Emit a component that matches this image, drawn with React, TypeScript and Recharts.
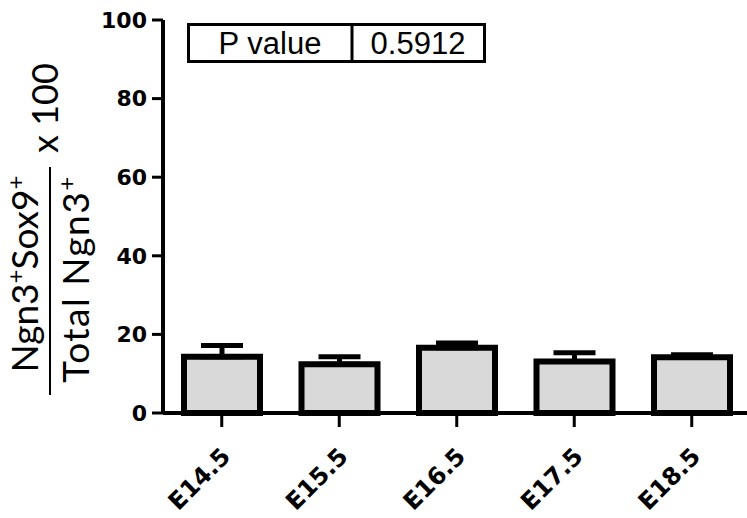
import React from 'react';
import { BarChart, Bar, XAxis, YAxis, ErrorBar } from 'recharts';

const categories = ['E14.5', 'E15.5', 'E16.5', 'E17.5', 'E18.5'];
const means = [14.3, 12.4, 16.6, 13.1, 14.2];
const sem = [2.9, 1.9, 1.2, 2.2, 0.6];
const yTicks = [0, 20, 40, 60, 80, 100];
const pValueLabel = 'P value';
const pValue = '0.5912';

const data = categories.map((c, i) => ({ name: c, value: means[i], err: [0, sem[i]] }));

const TICK_FONT = "'DejaVu Sans', sans-serif";
const LABEL_FONT = "Lato, 'Open Sans', sans-serif";

const XTick = (props: any) => {
  const { x, y, payload } = props;
  const tx = x + 10;
  const ty = y + 29;
  return (
    <text
      x={tx}
      y={ty}
      transform={`rotate(-45, ${tx}, ${ty})`}
      textAnchor="end"
      fontFamily={TICK_FONT}
      fontWeight="bold"
      fontSize={24}
      fill="#000"
    >
      {payload.value}
    </text>
  );
};

const Extras = () => {
  const sup = (t: string) => (
    <tspan baselineShift="super" fontSize={24}>
      {t}
    </tspan>
  );
  return (
    <g>
      <text
        x={38}
        y={274}
        transform="rotate(-90, 38, 274)"
        textAnchor="middle"
        fontFamily={LABEL_FONT}
        fontSize={37}
        fill="#000"
      >
        Ngn3{sup('+')}Sox9{sup('+')}
      </text>
      <line x1={50} y1={167} x2={50} y2={395} stroke="#000" strokeWidth={2} />
      <text
        x={89}
        y={279}
        transform="rotate(-90, 89, 279)"
        textAnchor="middle"
        fontFamily={LABEL_FONT}
        fontSize={37}
        letterSpacing={1.5}
        fill="#000"
      >
        Total Ngn3{sup('+')}
      </text>
      <text
        x={58}
        y={108}
        transform="rotate(-90, 58, 108)"
        textAnchor="middle"
        fontFamily={LABEL_FONT}
        fontSize={36}
        fill="#000"
      >
        x 100
      </text>
      <rect x={188.5} y={24.5} width={296} height={37} fill="#fff" stroke="#000" strokeWidth={3} />
      <line x1={352} y1={24.5} x2={352} y2={61.5} stroke="#000" strokeWidth={3} />
      <text
        x={270}
        y={54}
        textAnchor="middle"
        fontFamily="'Liberation Sans', Arial, sans-serif"
        fontSize={31}
        fill="#000"
      >
        {pValueLabel}
      </text>
      <text
        x={418}
        y={54}
        textAnchor="middle"
        fontFamily="'Liberation Sans', Arial, sans-serif"
        fontSize={31}
        fill="#000"
      >
        {pValue}
      </text>
    </g>
  );
};

export default function App() {
  return (
    <div style={{ position: 'absolute', left: 0, top: 0, width: 747, height: 518, overflow: 'hidden', background: '#fff' }}>
      <BarChart
        width={760}
        height={518}
        data={data}
        margin={{ top: 20, right: 9.5, left: 0, bottom: 0 }}
      >
        <XAxis
          dataKey="name"
          height={105}
          axisLine={{ stroke: '#000', strokeWidth: 4 }}
          tickLine={{ stroke: '#000', strokeWidth: 3 }}
          tickSize={14}
          tickMargin={2}
          tick={<XTick />}
          interval={0}
        />
        <YAxis
          width={163}
          domain={[0, 100]}
          ticks={yTicks}
          interval={0}
          axisLine={{ stroke: '#000', strokeWidth: 4 }}
          tickLine={{ stroke: '#000', strokeWidth: 3 }}
          tickSize={11}
          tickMargin={5}
          tick={{ fill: '#000', fontFamily: TICK_FONT, fontWeight: 'bold', fontSize: 22 }}
          label={<Extras />}
        />
        <Bar
          dataKey="value"
          fill="#d9d9d9"
          stroke="#000"
          strokeWidth={6}
          barSize={76}
          isAnimationActive={false}
        >
          <ErrorBar dataKey="err" width={21} stroke="#000" strokeWidth={5} direction="y" />
        </Bar>
      </BarChart>
    </div>
  );
}
